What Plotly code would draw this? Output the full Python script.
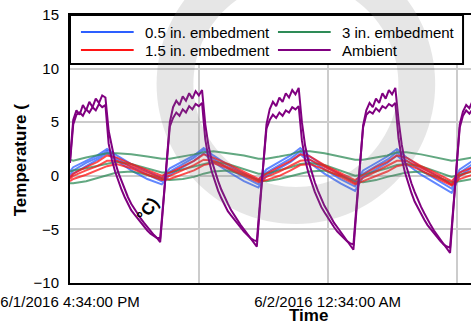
import numpy as np
import pandas as pd
import plotly.graph_objects as go

# ---------------------------------------------------------------- data
START = pd.Timestamp("2016-06-01 16:34:00")

# ambient sensors, logged every 0.1 h
amb_hours = [round(i * 0.1, 1) for i in range(126)]
ambient_a = [
    1.5, 5.2, 6.1, 5.7, 6.6, 6.1, 6.9, 6.4, 7.2, 6.8, 7.5, 7.3, 4.2, 2.6, 1.3, 0.3,
    -0.5, -1.3, -2.0, -2.6, -3.1, -3.6, -4.0, -4.4, -4.8, -5.1, -5.5, -5.8, -6.2, -2.5,
    1.5, 5.0, 6.4, 7.0, 6.6, 7.4, 7.0, 7.7, 7.2, 7.9, 7.5, 8.0, 4.8, 2.8, 1.4, 0.4,
    -0.5, -1.3, -2.0, -2.6, -3.2, -3.7, -4.2, -4.6, -5.0, -5.4, -5.8, -6.2, -6.6, -2.8,
    1.2, 4.8, 6.2, 6.9, 6.5, 7.3, 6.9, 7.7, 7.3, 8.0, 7.6, 8.2, 5.0, 2.8, 1.4, 0.3,
    -0.6, -1.4, -2.1, -2.8, -3.3, -3.9, -4.4, -4.8, -5.2, -5.6, -6.0, -6.4, -6.9, -3.0,
    1.0, 4.7, 6.1, 6.8, 6.4, 7.2, 6.8, 7.7, 7.2, 8.0, 7.6, 8.2, 5.2, 2.9, 1.3, 0.2,
    -0.7, -1.5, -2.3, -2.9, -3.5, -4.1, -4.6, -5.1, -5.5, -5.9, -6.3, -6.7, -7.2, -3.2,
    1.0, 4.8, 6.0, 6.6, 6.3, 7.0,
]
ambient_b = [
    1.2, 4.8, 5.7, 5.9, 5.6, 6.2, 5.9, 6.4, 6.1, 6.7, 6.4, 6.6, 3.0, 1.5, 0.4, -0.5,
    -1.3, -2.0, -2.6, -3.2, -3.6, -4.0, -4.4, -4.8, -5.1, -5.4, -5.6, -5.8, -5.8, -2.2,
    1.6, 4.6, 5.4, 5.9, 5.6, 6.2, 5.9, 6.5, 6.2, 6.7, 6.5, 6.8, 3.4, 1.6, 0.4, -0.6,
    -1.4, -2.1, -2.7, -3.3, -3.7, -4.1, -4.5, -4.9, -5.2, -5.5, -5.8, -6.0, -6.1, -2.4,
    1.4, 4.4, 5.2, 5.7, 5.4, 5.9, 5.6, 6.1, 5.9, 6.4, 6.2, 6.5, 3.3, 1.5, 0.3, -0.7,
    -1.5, -2.2, -2.9, -3.4, -3.9, -4.4, -4.8, -5.2, -5.5, -5.8, -6.1, -6.3, -6.4, -2.6,
    1.2, 4.5, 5.7, 6.0, 5.8, 6.3, 6.0, 6.5, 6.3, 6.7, 6.5, 6.8, 3.5, 1.6, 0.3, -0.7,
    -1.6, -2.4, -3.0, -3.6, -4.1, -4.6, -5.0, -5.4, -5.8, -6.1, -6.4, -6.6, -6.7, -2.8,
    1.1, 4.5, 5.6, 6.1, 5.8, 6.2,
]

# embedded sensors, read at the turning points of each 3 h cycle
emb_hours = [
    0.0, 0.1, 0.5, 0.85, 1.15, 1.45, 1.9, 2.4, 2.85,
    3.1, 3.5, 3.85, 4.15, 4.45, 4.9, 5.4, 5.85,
    6.1, 6.5, 6.85, 7.15, 7.45, 7.9, 8.4, 8.85,
    9.1, 9.5, 9.85, 10.15, 10.45, 10.9, 11.4, 11.85,
    12.1, 12.5,
]
half_in = [
    [0.4, 0.8, 1.4, 1.9, 2.5, 1.9, 1.1, 0.4, -0.2,
     0.7, 1.3, 1.9, 2.6, 1.9, 1.0, 0.2, -0.4,
     0.6, 1.3, 1.9, 2.6, 1.8, 0.9, 0.1, -0.6,
     0.5, 1.2, 1.8, 2.5, 1.7, 0.8, 0.0, -0.8,
     0.6, 1.4],
    [0.1, 0.5, 1.2, 1.7, 2.3, 1.6, 0.8, 0.1, -0.5,
     0.4, 1.1, 1.7, 2.4, 1.6, 0.7, -0.1, -0.8,
     0.3, 1.0, 1.6, 2.3, 1.5, 0.6, -0.3, -1.0,
     0.2, 0.9, 1.5, 2.2, 1.4, 0.5, -0.4, -1.2,
     0.3, 1.1],
    [-0.2, 0.2, 0.9, 1.5, 2.1, 1.4, 0.5, -0.3, -0.8,
     0.1, 0.8, 1.4, 2.1, 1.3, 0.4, -0.5, -1.1,
     0.0, 0.7, 1.3, 2.0, 1.2, 0.2, -0.7, -1.4,
     -0.1, 0.6, 1.2, 1.9, 1.1, 0.1, -0.8, -1.6,
     0.0, 0.8],
]
one_half_in = [
    [-0.1, 0.2, 0.8, 1.3, 1.9, 1.7, 1.1, 0.5, 0.0,
     0.3, 0.9, 1.4, 2.0, 1.7, 1.1, 0.4, -0.3,
     0.2, 0.8, 1.4, 2.0, 1.8, 1.0, 0.3, -0.4,
     0.1, 0.8, 1.3, 1.9, 1.7, 0.9, 0.2, -0.5,
     0.3, 0.8],
    [-0.3, 0.0, 0.5, 0.9, 1.4, 1.4, 0.9, 0.3, -0.2,
     0.0, 0.5, 1.0, 1.5, 1.4, 0.8, 0.2, -0.5,
     -0.1, 0.4, 0.9, 1.4, 1.5, 0.8, 0.1, -0.7,
     -0.2, 0.4, 0.9, 1.4, 1.4, 0.7, 0.0, -0.8,
     0.0, 0.5],
    [-0.5, -0.3, 0.1, 0.5, 0.9, 1.1, 0.7, 0.1, -0.4,
     -0.3, 0.1, 0.5, 1.0, 1.2, 0.7, 0.0, -0.6,
     -0.4, 0.0, 0.5, 1.0, 1.1, 0.6, -0.1, -0.8,
     -0.5, 0.0, 0.4, 0.9, 1.1, 0.5, -0.2, -0.9,
     -0.3, 0.1],
]
three_in = [
    [1.5, 1.4, 1.7, 1.9, 2.1, 2.1, 2.0, 1.8, 1.6,
     1.6, 1.8, 2.0, 2.2, 2.3, 2.1, 1.9, 1.6,
     1.6, 1.8, 2.0, 2.3, 2.3, 2.1, 1.8, 1.5,
     1.5, 1.7, 1.9, 2.2, 2.2, 2.0, 1.7, 1.4,
     1.5, 1.7],
    [0.4, 0.5, 0.7, 0.9, 1.1, 1.3, 1.1, 0.7, 0.3,
     0.3, 0.6, 0.9, 1.1, 1.3, 1.1, 0.6, 0.2,
     0.2, 0.5, 0.8, 1.1, 1.2, 1.0, 0.5, 0.0,
     0.1, 0.4, 0.7, 1.0, 1.1, 0.9, 0.4, -0.1,
     0.1, 0.4],
    [-0.7, -0.7, -0.5, -0.2, 0.1, 0.3, 0.4, 0.1, -0.3,
     -0.4, -0.3, -0.1, 0.2, 0.4, 0.5, 0.1, -0.4,
     -0.5, -0.3, 0.0, 0.2, 0.4, 0.5, 0.0, -0.5,
     -0.6, -0.4, -0.1, 0.1, 0.3, 0.4, -0.1, -0.6,
     -0.5, -0.3],
]

tick_hours = [0, 4, 8, 12]
tick_labels = ["6/1/2016 4:34:00 PM", "", "6/2/2016 12:34:00 AM", ""]
y_ticks = [-10, -5, 0, 5, 10, 15]

# ---------------------------------------------------------------- figure
W, H = 471, 326
L, R, T, B = 68, 0, 15, 43
PW, PH = W - L - R, H - T - B
FONT = "Arial, Liberation Sans, sans-serif"

BLUE = "rgb(45,95,255)"
GREEN = "rgb(46,139,87)"
RED = "rgb(255,20,20)"
PURPLE = "rgb(128,0,128)"


def to_time(hours):
    return START + pd.to_timedelta(hours, unit="h")


def px(x, y):
    """Page pixel position -> paper coordinates."""
    return (x - L) / PW, (H - B - y) / PH


fig = go.Figure()

groups = [
    ("0.5 in. embedment", BLUE, half_in),
    ("3 in. embedment", GREEN, three_in),
    ("1.5 in. embedment", RED, one_half_in),
]
for name, color, lines in groups:
    for vals in lines:
        fig.add_trace(go.Scatter(
            x=to_time(emb_hours), y=vals, mode="lines", name=name,
            line=dict(color=color, width=2), opacity=0.75, showlegend=False,
        ))

for vals in [ambient_a, ambient_b]:
    fig.add_trace(go.Scatter(
        x=to_time(amb_hours), y=vals, mode="lines", name="Ambient",
        line=dict(color=PURPLE, width=2), showlegend=False,
    ))

fig.update_xaxes(
    type="date", range=[to_time(0), to_time(12.45)],
    tickvals=to_time(tick_hours), ticktext=tick_labels,
    showgrid=True, gridcolor="#cccccc", gridwidth=1.5,
    showline=True, linecolor="black", linewidth=2, mirror=True,
    ticks="", ticklabelstandoff=4, ticklabeloverflow="allow",
    tickfont=dict(family=FONT, size=15, color="black"), zeroline=False,
)
fig.update_yaxes(
    range=[-10, 15], tickvals=y_ticks,
    showgrid=True, gridcolor="#cccccc", gridwidth=1.5,
    showline=True, linecolor="black", linewidth=2,
    ticks="", ticklabelstandoff=6,
    tickfont=dict(family=FONT, size=15, color="black"), zeroline=False,
)

shapes = []
# legend frame
x0, y0 = px(68, 15)
x1, y1 = px(463, 64)
shapes.append(dict(type="rect", xref="paper", yref="paper", x0=x0, y0=y1, x1=x1, y1=y0,
                   fillcolor="white", line=dict(color="black", width=2), layer="above"))
ann = []
legend_items = [
    ("0.5 in. embedment", BLUE, 79, 32),
    ("3 in. embedment", GREEN, 277, 32),
    ("1.5 in. embedment", RED, 79, 50),
    ("Ambient", PURPLE, 277, 50),
]
for label, color, lx, ly in legend_items:
    ax0, ay = px(lx, ly)
    ax1, _ = px(lx + 53, ly)
    shapes.append(dict(type="line", xref="paper", yref="paper", x0=ax0, y0=ay, x1=ax1, y1=ay,
                       line=dict(color=color, width=2), layer="above"))
    tx, _ = px(lx + 62, ly)
    ann.append(dict(text=label, x=tx, y=ay, xanchor="left", yanchor="middle",
                    font=dict(family=FONT, size=15, color="black")))

# large pale ring in the background
cx, cy, r_out, r_in = 295, 84, 140, 103
ang = np.linspace(0, 2 * np.pi, 121)
outer = [px(cx + r_out * np.cos(a), cy + r_out * np.sin(a)) for a in ang]
inner = [px(cx + r_in * np.cos(a), cy + r_in * np.sin(a)) for a in ang[::-1]]
path = "M" + " L".join(f"{x:.4f},{y:.4f}" for x, y in outer) + " Z M" + \
       " L".join(f"{x:.4f},{y:.4f}" for x, y in inner) + " Z"
shapes.append(dict(type="path", path=path, xref="paper", yref="paper",
                   fillcolor="rgba(120,120,120,0.19)", line=dict(width=0), layer="above"))

xt, yt = px(18, 160)
ann.append(dict(text="<b>Temperature (</b>", x=xt, y=yt, textangle=-90,
                xanchor="center", yanchor="middle",
                font=dict(family=FONT, size=17, color="black")))
xt, yt = px(146, 209)
ann.append(dict(text="<b>°C)</b>", x=xt, y=yt, textangle=-55,
                xanchor="center", yanchor="middle",
                font=dict(family=FONT, size=17, color="black")))
xt, yt = px(308, 327)
ann.append(dict(text="<b>Time</b>", x=xt, y=yt, xanchor="center", yanchor="bottom",
                font=dict(family=FONT, size=17, color="black")))
for a in ann:
    a.update(xref="paper", yref="paper", showarrow=False)

fig.update_layout(
    width=W, height=H, margin=dict(l=L, r=R, t=T, b=B, pad=0),
    paper_bgcolor="white", plot_bgcolor="white",
    annotations=ann, shapes=shapes, showlegend=False,
)

fig.write_html("out.html")
